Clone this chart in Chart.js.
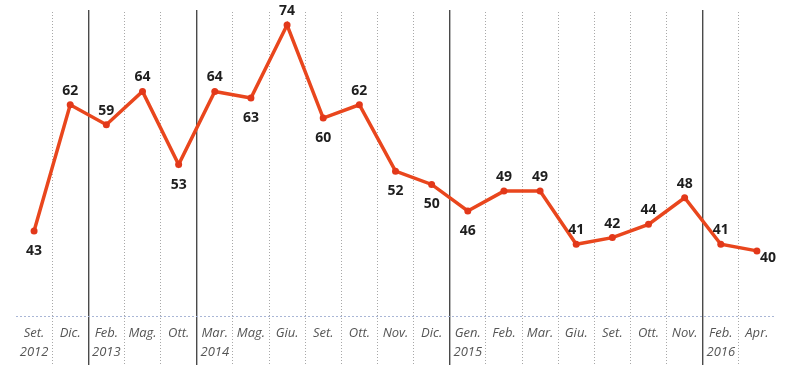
<!DOCTYPE html>
<html>
<head>
<meta charset="utf-8">
<script src="https://cdn.jsdelivr.net/npm/chart.js@4/dist/chart.umd.min.js"></script>
<style>
  html, body { margin: 0; padding: 0; background: #fff; }
  #wrap { width: 790px; height: 365px; }
</style>
</head>
<body>
<div id="wrap"><canvas id="myChart"></canvas></div>
<script>
// dati
const mesi = [
    ['Set.', '2012'], 'Dic.', ['Feb.', '2013'], 'Mag.', 'Ott.', ['Mar.', '2014'], 'Mag.', 'Giu.',
    'Set.', 'Ott.', 'Nov.', 'Dic.', ['Gen.', '2015'], 'Feb.', 'Mar.', 'Giu.', 'Set.', 'Ott.',
    'Nov.', ['Feb.', '2016'], 'Apr.'
]
const valori = [43, 62, 59, 64, 53, 64, 63, 74, 60, 62, 52, 50, 46, 49, 49, 41, 42, 44, 48, 41, 40]
// righe piene tra un anno e l'altro (indice della riga di griglia)
const inizioAnno = [2, 5, 12, 19]

// posizione delle etichette: sopra / sotto / destra
const labelSide = ['b', 'a', 'a', 'a', 'b', 'a', 'b', 'a', 'b', 'a', 'b', 'b', 'b', 'a', 'a', 'a', 'a', 'a', 'a', 'a', 'r']

// pattern puntinato per le righe verticali
let pat = document.createElement('canvas')
pat.width = 1
pat.height = 3
let pctx = pat.getContext('2d')
pctx.fillStyle = '#a8a8a8'
pctx.fillRect(0, 0, 1, 1)
let dotted = pctx.createPattern(pat, 'repeat')

let etichette = {
    id: 'etichette',
    afterDatasetsDraw(chart) {
        let ctx = chart.ctx
        let meta = chart.getDatasetMeta(0)
        ctx.save()
        ctx.font = 'bold 14px "Open Sans", "DejaVu Sans", sans-serif'
        ctx.fillStyle = '#1e1e1e'
        ctx.textAlign = 'center'
        ctx.textBaseline = 'middle'
        meta.data.forEach((p, i) => {
            let dx = 0, dy = -14
            if (labelSide[i] == 'b') dy = 20
            if (labelSide[i] == 'r') { dx = 11; dy = 7 }
            ctx.fillText(String(valori[i]), p.x + dx, p.y + dy)
        })
        ctx.restore()
    }
}

let ctx = document.getElementById('myChart')
let myChart = new Chart(ctx, {
    type: 'line',
    data: {
        labels: mesi,
        datasets: [{
            data: valori,
            borderColor: '#e9461d',
            backgroundColor: '#e2381a',
            borderWidth: 3.5,
            pointRadius: 3.5,
            pointBorderWidth: 0,
            tension: 0,
            clip: false
        }]
    },
    options: {
        responsive: true,
        maintainAspectRatio: false,
        animation: false,
        events: [],
        layout: { padding: { top: 10, left: 16, right: 15, bottom: 0 } },
        plugins: {
            legend: { display: false },
            tooltip: { enabled: false }
        },
        scales: {
            x: {
                offset: true,
                grid: {
                    offset: true,
                    drawTicks: true,
                    tickLength: 49,
                    lineWidth: c => (inizioAnno.includes(c.index) ? 1.4 : 1),
                    color: c => {
                        if (c.index === undefined || c.index === 0) return 'rgba(0,0,0,0)'
                        if (inizioAnno.includes(c.index)) return '#4a4a4a'
                        return dotted
                    }
                },
                border: { display: false },
                ticks: {
                    padding: -41,
                    color: '#555',
                    maxRotation: 0,
                    autoSkip: false,
                    font: { family: '"Liberation Sans Narrow", "Open Sans", sans-serif', size: 13, style: 'italic', lineHeight: 1.45 }
                },
                afterFit: s => { s.height = 49 }
            },
            y: {
                min: 30.2,
                max: 76.26,
                afterBuildTicks: s => { s.ticks = [{ value: 30.2 }] },
                afterFit: s => { s.width = 0 },
                grid: { color: '#a9b6d6', drawTicks: false, lineWidth: 1 },
                border: { display: false, dash: [2, 2] },
                ticks: { display: false }
            }
        }
    },
    plugins: [etichette]
})
</script>
</body>
</html>
